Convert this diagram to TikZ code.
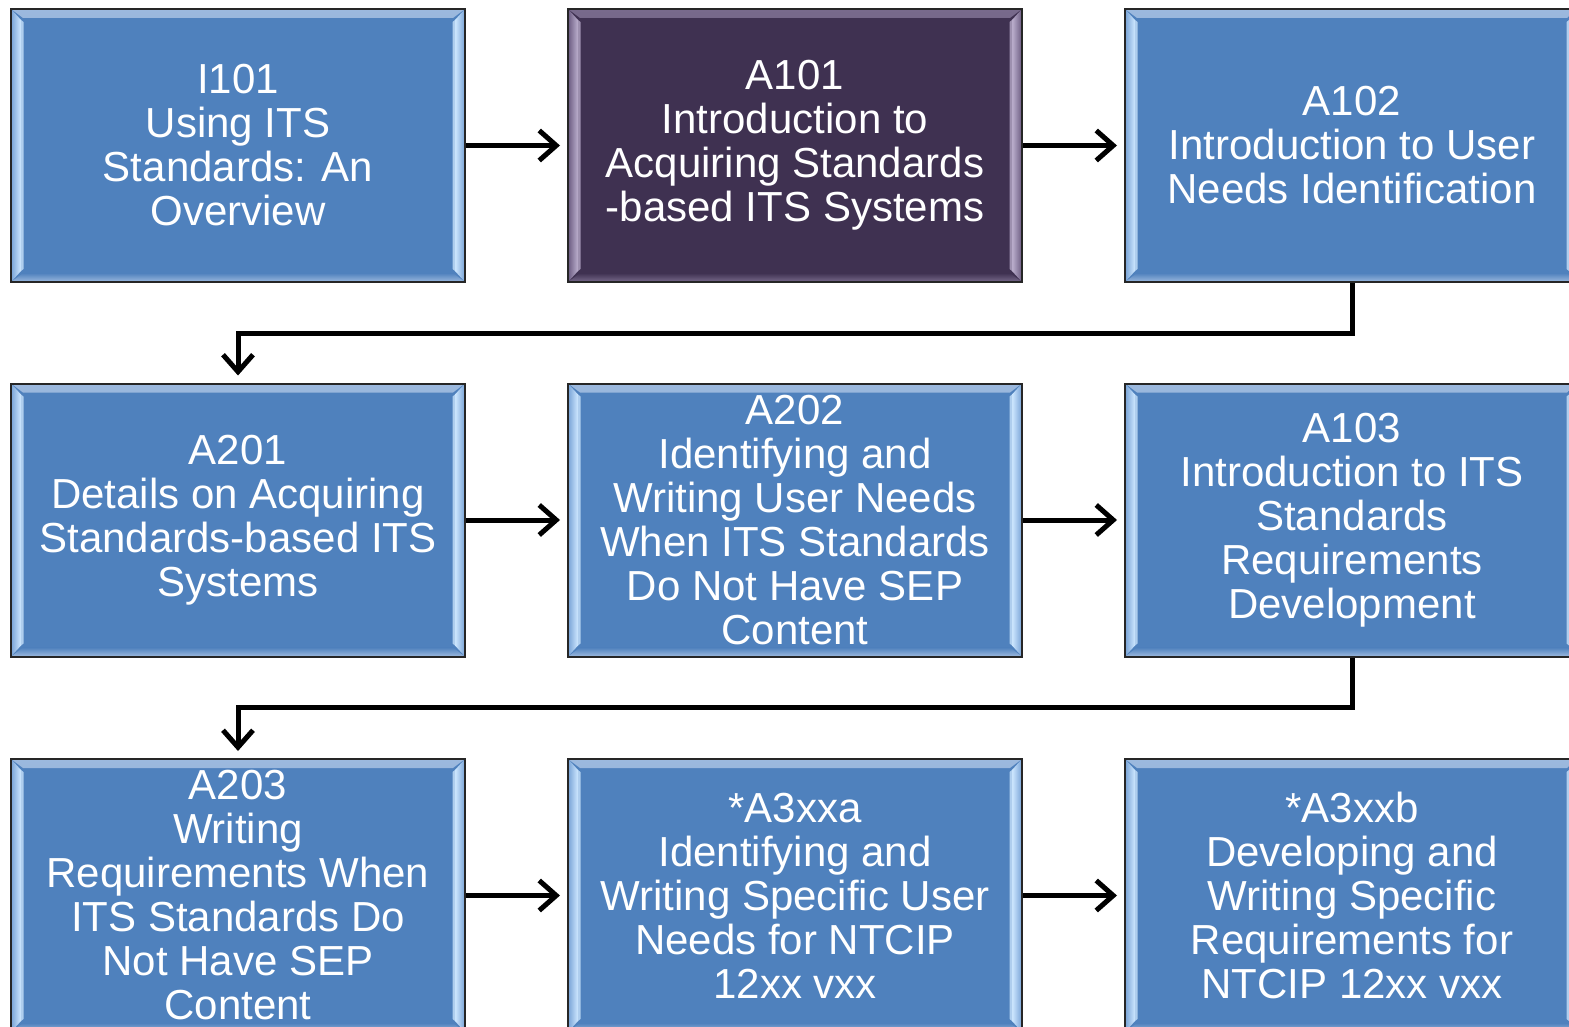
\documentclass[tikz,border=0pt]{standalone}
\usepackage{fontspec}
\setmainfont{Liberation Sans}
\usetikzlibrary{arrows.meta,calc}
\definecolor{boxblue}{HTML}{4F81BD}
\definecolor{bluemid}{HTML}{77A2D6}
\definecolor{bluelight}{HTML}{CFE8FF}
\definecolor{bluetop}{HTML}{9CB9DE}
\definecolor{boxpurple}{HTML}{3F3151}
\definecolor{purpmid}{HTML}{6A5A80}
\definecolor{purplight}{HTML}{BCB0CE}
\definecolor{purptop}{HTML}{786A8C}
\definecolor{edgegray}{HTML}{262626}
\newcommand\bevelset[4]{%
  % #1 light, #2 mid, #3 top band, #4 fill
  \shade let \p1=(path picture bounding box.north west), \p2=(path picture bounding box.south east) in
    [top color=#3, bottom color=#4]
    (\x1,\y1) -- (\x2,\y1) -- (\x2-12pt,\y1-9pt) -- (\x1+12pt,\y1-9pt) -- cycle;
  \shade let \p1=(path picture bounding box.north west), \p2=(path picture bounding box.south east) in
    [bottom color=#3, top color=#4]
    (\x1,\y2) -- (\x2,\y2) -- (\x2-12pt,\y2+9pt) -- (\x1+12pt,\y2+9pt) -- cycle;
  \shade let \p1=(path picture bounding box.north west), \p2=(path picture bounding box.south east) in
    [left color=#2, right color=#1]
    (\x1,\y1) -- (\x1+10pt,\y1-11pt) -- (\x1+10pt,\y2+11pt) -- (\x1,\y2) -- cycle;
  \fill let \p1=(path picture bounding box.north west), \p2=(path picture bounding box.south east) in
    [#1!75!#4]
    (\x1+10pt,\y1-11pt) -- (\x1+12.5pt,\y1-13pt) -- (\x1+12.5pt,\y2+13pt) -- (\x1+10pt,\y2+11pt) -- cycle;
  \shade let \p1=(path picture bounding box.north west), \p2=(path picture bounding box.south east) in
    [left color=#1, right color=#2]
    (\x2,\y1) -- (\x2-10pt,\y1-11pt) -- (\x2-10pt,\y2+11pt) -- (\x2,\y2) -- cycle;
  \fill let \p1=(path picture bounding box.north west), \p2=(path picture bounding box.south east) in
    [#1!75!#4]
    (\x2-10pt,\y1-11pt) -- (\x2-12.5pt,\y1-13pt) -- (\x2-12.5pt,\y2+13pt) -- (\x2-10pt,\y2+11pt) -- cycle;
}
\tikzset{
  course/.style={rectangle, draw=edgegray, line width=2pt, fill=boxblue,
    minimum width=454pt, minimum height=273pt, inner sep=0pt, text=white,
    align=center, font=\fontsize{42}{44}\selectfont,
    path picture={\bevelset{bluelight}{bluemid}{bluetop}{boxblue}}},
  coursedark/.style={course, fill=boxpurple,
    path picture={\bevelset{purplight}{purpmid}{purptop}{boxpurple}}},
  flow/.style={line width=5pt, -{Straight Barb[length=17pt,width=30pt]}, shorten >=7pt},
  elbow/.style={flow}
}
\begin{document}
\begin{tikzpicture}[x=1pt,y=-1pt]
\useasboundingbox (0,0) rectangle (1569,1027);
\fill[white] (0,0) rectangle (1569,1027);
\clip (0,0) rectangle (1569,1027);
% row 1
\node[course] (i101) at (238,145.5) {I101\\Using ITS\\Standards: An\\Overview};
\node[coursedark] (a101) at (795,145.5) {A101\\Introduction to\\Acquiring Standards\\-based ITS Systems};
\node[course] (a102) at (1352,145.5) {A102\\Introduction to User\\Needs Identification};
% row 2
\node[course] (a201) at (238,520) {A201\\Details on Acquiring\\Standards-based ITS\\Systems};
\node[course] (a202) at (795,520) {A202\\Identifying and\\Writing User Needs\\When ITS Standards\\Do Not Have SEP\\Content};
\node[course] (a103) at (1352,520) {A103\\Introduction to ITS\\Standards\\Requirements\\Development};
% row 3
\node[course] (a203) at (238,895.5) {A203\\Writing\\Requirements When\\ITS Standards Do\\Not Have SEP\\Content};
\node[course] (a3xxa) at (795,895.5) {*A3xxa\\Identifying and\\Writing Specific User\\Needs for NTCIP\\12xx vxx};
\node[course] (a3xxb) at (1352,895.5) {*A3xxb\\Developing and\\Writing Specific\\Requirements for\\NTCIP 12xx vxx};
% connectors
\draw[flow] (i101.east) -- (a101.west);
\draw[flow] (a101.east) -- (a102.west);
\draw[flow] (a201.east) -- (a202.west);
\draw[flow] (a202.east) -- (a103.west);
\draw[flow] (a203.east) -- (a3xxa.west);
\draw[flow] (a3xxa.east) -- (a3xxb.west);
\draw[elbow] (a102.south) -- ++(0,50) -| (a201.north);
\draw[elbow] (a103.south) -- ++(0,50) -| (a203.north);
\end{tikzpicture}
\end{document}
